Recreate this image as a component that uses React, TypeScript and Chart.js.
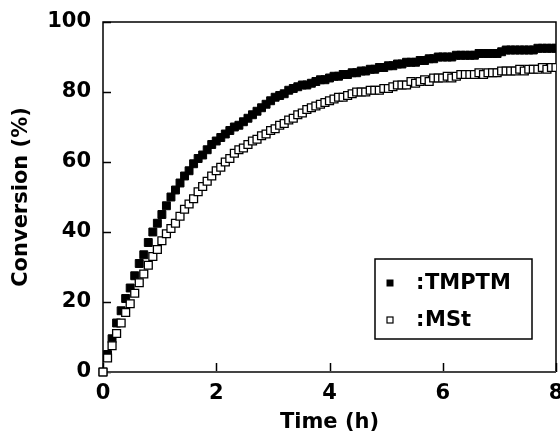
import React, { useEffect, useRef } from "react";
import { Chart, registerables } from "chart.js";

Chart.register(...registerables);

const TIMES = [
  0, 0.08, 0.16, 0.24, 0.32, 0.4, 0.48, 0.56, 0.64, 0.72,
  0.8, 0.88, 0.96, 1.04, 1.12, 1.2, 1.28, 1.36, 1.44, 1.52,
  1.6, 1.68, 1.76, 1.84, 1.92, 2.0, 2.08, 2.16, 2.24, 2.32,
  2.4, 2.48, 2.56, 2.64, 2.72, 2.8, 2.88, 2.96, 3.04, 3.12,
  3.2, 3.28, 3.36, 3.44, 3.52, 3.6, 3.68, 3.76, 3.84, 3.92,
  4.0, 4.08, 4.16, 4.24, 4.32, 4.4, 4.48, 4.56, 4.64, 4.72,
  4.8, 4.88, 4.96, 5.04, 5.12, 5.2, 5.28, 5.36, 5.44, 5.52,
  5.6, 5.68, 5.76, 5.84, 5.92, 6.0, 6.08, 6.16, 6.24, 6.32,
  6.4, 6.48, 6.56, 6.64, 6.72, 6.8, 6.88, 6.96, 7.04, 7.12,
  7.2, 7.28, 7.36, 7.44, 7.52, 7.6, 7.68, 7.76, 7.84, 7.92,
  8.0,
];

const TMPTM = [
  0, 5, 9.5, 14, 17.5, 21, 24, 27.5, 31, 33.5,
  37, 40, 42.5, 45, 47.5, 50, 52, 54, 56, 57.5,
  59.5, 61, 62, 63.5, 65, 66, 67, 68, 69, 70,
  70.5, 71.5, 72.5, 73.5, 74.5, 75.5, 76.5, 77.5, 78.5, 79,
  79.5, 80.5, 81, 81.5, 82, 82, 82.5, 83, 83.5, 83.5,
  84, 84.5, 84.5, 85, 85, 85.5, 85.5, 86, 86, 86.5,
  86.5, 87, 87, 87.5, 87.5, 88, 88, 88.5, 88.5, 88.5,
  89, 89, 89.5, 89.5, 90, 90, 90, 90, 90.5, 90.5,
  90.5, 90.5, 90.5, 91, 91, 91, 91, 91, 91.5, 92,
  92, 92, 92, 92, 92, 92, 92.5, 92.5, 92.5, 92.5,
  92.5,
];

const MST = [
  0, 4, 7.5, 11, 14, 17, 19.5, 22.5, 25.5, 28,
  30.5, 33, 35, 37.5, 39.5, 41, 42.5, 44.5, 46.5, 48,
  49.5, 51.5, 53, 54.5, 56, 57.5, 58.5, 60, 61, 62.5,
  63.5, 64, 65, 66, 66.5, 67.5, 68, 69, 69.5, 70.5,
  71, 72, 72.5, 73.5, 74, 75, 75.5, 76, 76.5, 77,
  77.5, 78, 78.5, 78.5, 79, 79.5, 80, 80, 80, 80.5,
  80.5, 80.5, 81, 81, 81.5, 82, 82, 82, 83, 82.5,
  83, 83.5, 83, 84, 84, 84, 84.5, 84, 84.5, 85,
  85, 85, 85, 85.5, 85, 85.5, 85.5, 85.5, 86, 86,
  86, 86, 86.5, 86, 86.5, 86.5, 86.5, 87, 86.5, 87,
  87,
];

const SERIES_NAMES = ["TMPTM", "MSt"];
const X_TICKS = [0, 2, 4, 6, 8];
const Y_TICKS = [0, 20, 40, 60, 80, 100];
const X_TITLE = "Time (h)";
const Y_TITLE = "Conversion (%)";

const FONT_FAMILY = "'DejaVu Sans', 'Liberation Sans', Arial, sans-serif";

const framePlugin = {
  id: "framePlugin",
  beforeDatasetsDraw(chart: any) {
    const { ctx, chartArea: a, scales } = chart;
    ctx.save();
    ctx.strokeStyle = "#000";
    ctx.lineWidth = 1.5;
    ctx.beginPath();
    for (const v of Y_TICKS) {
      const y = Math.round(scales.y.getPixelForValue(v)) + 0.5;
      ctx.moveTo(a.left, y);
      ctx.lineTo(a.left + 8, y);
    }
    for (const v of X_TICKS) {
      const x = Math.round(scales.x.getPixelForValue(v)) + 0.5;
      ctx.moveTo(x, a.bottom);
      ctx.lineTo(x, a.bottom - 9);
    }
    ctx.stroke();
    // frame: top, left, right
    ctx.beginPath();
    ctx.moveTo(a.left, a.bottom);
    ctx.lineTo(a.left, a.top);
    ctx.lineTo(a.right, a.top);
    ctx.lineTo(a.right, a.bottom);
    ctx.stroke();
    // bottom axis
    ctx.strokeStyle = "#444";
    ctx.lineWidth = 2;
    ctx.beginPath();
    ctx.moveTo(a.left, a.bottom);
    ctx.lineTo(a.right, a.bottom);
    ctx.stroke();
    ctx.restore();
  },
};

const legendPlugin = {
  id: "legendPlugin",
  afterDatasetsDraw(chart: any) {
    const { ctx, chartArea: a } = chart;
    const bx = a.left + 272;
    const by = a.top + 237;
    const bw = 157;
    const bh = 80;
    ctx.save();
    ctx.fillStyle = "#fff";
    ctx.fillRect(bx, by, bw, bh);
    ctx.strokeStyle = "#000";
    ctx.lineWidth = 1.5;
    ctx.strokeRect(bx, by, bw, bh);
    ctx.font = `bold 21px ${FONT_FAMILY}`;
    ctx.textBaseline = "middle";
    ctx.fillStyle = "#000";
    const rows = [by + 24, by + 61];
    chart.data.datasets.forEach((ds: any, i: number) => {
      const cy = rows[i];
      const mx = bx + 15;
      if (ds.pointBackgroundColor === "#000") {
        ctx.fillStyle = "#000";
        ctx.fillRect(mx - 3.5, cy - 3.5, 7, 7);
      } else {
        ctx.fillStyle = "#fff";
        ctx.fillRect(mx - 3, cy - 3, 6, 6);
        ctx.strokeStyle = "#000";
        ctx.lineWidth = 1.2;
        ctx.strokeRect(mx - 3, cy - 3, 6, 6);
      }
      ctx.fillStyle = "#000";
      ctx.textAlign = "left";
      ctx.fillText(":", bx + 41, cy + 1);
      ctx.fillText(ds.label, bx + 50, cy + 1);
    });
    ctx.restore();
  },
};

export default function App() {
  const canvasRef = useRef<HTMLCanvasElement | null>(null);

  useEffect(() => {
    const canvas = canvasRef.current;
    if (!canvas) return;
    const tmptmData = TIMES.map((t, i) => ({ x: t, y: TMPTM[i] }));
    const mstData = TIMES.map((t, i) => ({ x: t, y: MST[i] }));
    const chart = new Chart(canvas, {
      type: "scatter",
      data: {
        datasets: [
          {
            label: SERIES_NAMES[0],
            data: tmptmData,
            pointStyle: "rect",
            pointRadius: 5.6,
            pointBackgroundColor: "#000",
            pointBorderColor: "#000",
            pointBorderWidth: 1,
            order: 2,
            clip: { left: 8, bottom: 8, top: 0, right: 0 },
          } as any,
          {
            label: SERIES_NAMES[1],
            data: mstData,
            pointStyle: "rect",
            pointRadius: 5.6,
            pointBackgroundColor: "#fff",
            pointBorderColor: "#000",
            pointBorderWidth: 1.3,
            order: 1,
            clip: { left: 8, bottom: 8, top: 0, right: 0 },
          } as any,
        ],
      },
      options: {
        animation: false,
        responsive: false,
        layout: { autoPadding: false, padding: { top: 22, right: 4, left: 0, bottom: 0 } } as any,
        plugins: {
          legend: { display: false },
          tooltip: { enabled: false },
        },
        scales: {
          x: {
            type: "linear",
            min: 0,
            max: 8,
            afterBuildTicks: (scale: any) => {
              scale.ticks = X_TICKS.map((v) => ({ value: v }));
            },
            afterFit: (scale: any) => {
              scale.height = 68;
              scale.paddingLeft = 0;
              scale.paddingRight = 0;
            },
            grid: { display: false, drawTicks: false },
            border: { display: false },
            ticks: {
              color: "#000",
              padding: 9,
              maxRotation: 0,
              font: { family: FONT_FAMILY, size: 21, weight: "bold" },
            },
            title: {
              display: true,
              text: X_TITLE,
              color: "#000",
              padding: { top: 0, bottom: 5 },
              font: { family: FONT_FAMILY, size: 21, weight: "bold" },
            },
          },
          y: {
            type: "linear",
            min: 0,
            max: 100,
            afterBuildTicks: (scale: any) => {
              scale.ticks = Y_TICKS.map((v) => ({ value: v }));
            },
            afterFit: (scale: any) => {
              scale.width = 103;
              scale.paddingTop = 0;
              scale.paddingBottom = 0;
            },
            grid: { display: false, drawTicks: false },
            border: { display: false },
            ticks: {
              color: "#000",
              padding: 12,
              font: { family: FONT_FAMILY, size: 21, weight: "bold" },
            },
            title: {
              display: true,
              text: Y_TITLE,
              color: "#000",
              padding: { top: 9, bottom: 0 },
              font: { family: FONT_FAMILY, size: 21, weight: "bold" },
            },
          },
        },
      } as any,
      plugins: [framePlugin, legendPlugin],
    });
    return () => chart.destroy();
  }, []);

  return (
    <div style={{ position: "absolute", left: 0, top: 0, width: 560, height: 440, background: "#fff" }}>
      <canvas ref={canvasRef} width={560} height={440} />
    </div>
  );
}
